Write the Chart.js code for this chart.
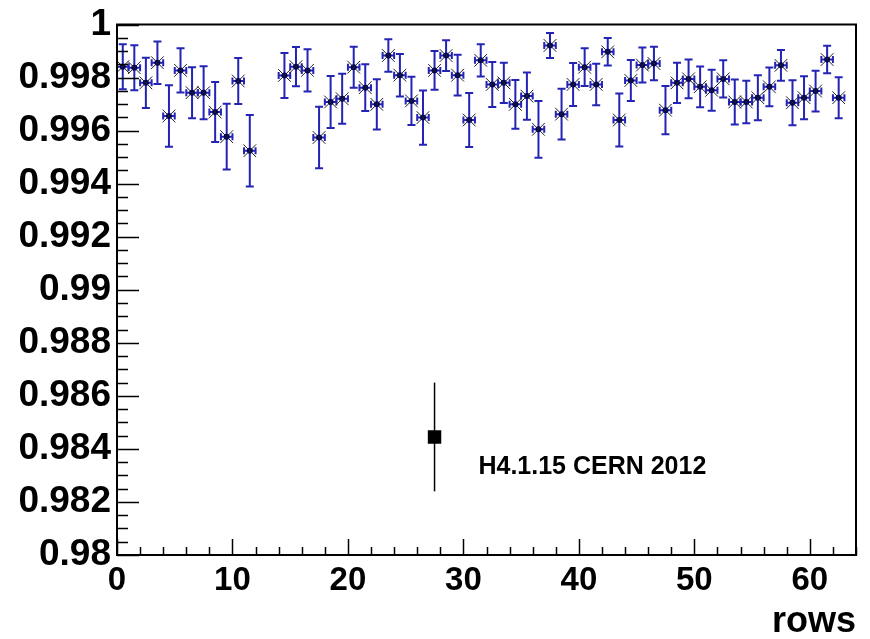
<!DOCTYPE html>
<html>
<head>
<meta charset="utf-8">
<title>H4.1.15 CERN 2012 - efficiency vs rows</title>
<script src="https://cdn.jsdelivr.net/npm/chart.js@4.4.1/dist/chart.umd.min.js"></script>
<style>
    html, body { margin: 0; padding: 0; background: #fff; }
    #wrap { width: 870px; height: 639px; }
</style>
</head>
<body>
<div id="wrap"><canvas id="effChart" width="870" height="639"></canvas></div>
<script>
// row number (bin centres), rows 12 and 13 have no entry
const rows = [
    0.5, 1.5, 2.5, 3.5, 4.5, 5.5, 6.5, 7.5, 8.5, 9.5, 10.5, 11.5,
    14.5, 15.5, 16.5, 17.5, 18.5, 19.5, 20.5, 21.5, 22.5, 23.5, 24.5,
    25.5, 26.5, 27.5, 28.5, 29.5, 30.5, 31.5, 32.5, 33.5, 34.5, 35.5,
    36.5, 37.5, 38.5, 39.5, 40.5, 41.5, 42.5, 43.5, 44.5, 45.5, 46.5,
    47.5, 48.5, 49.5, 50.5, 51.5, 52.5, 53.5, 54.5, 55.5, 56.5, 57.5,
    58.5, 59.5, 60.5, 61.5, 62.5
];
const efficiency = [
    0.99841, 0.99837, 0.99780, 0.99856, 0.99655, 0.99827, 0.99743, 0.99743, 0.99670, 0.99577, 0.99787, 0.99524,
    0.99808, 0.99841, 0.99827, 0.99574, 0.99708, 0.99720, 0.99839, 0.99762, 0.99699, 0.99883, 0.99809,
    0.99712, 0.99649, 0.99827, 0.99883, 0.99809, 0.99640, 0.99865, 0.99774, 0.99780, 0.99699, 0.99730,
    0.99605, 0.99921, 0.99662, 0.99774, 0.99839, 0.99774, 0.99897, 0.99640, 0.99789, 0.99847, 0.99853,
    0.99677, 0.99780, 0.99795, 0.99765, 0.99752, 0.99795, 0.99708, 0.99708, 0.99724, 0.99765, 0.99846,
    0.99705, 0.99724, 0.99749, 0.99868, 0.99724
];
const efficiencyErr = [
    0.00085, 0.00085, 0.00095, 0.00080, 0.00116, 0.00083, 0.00096, 0.00100, 0.00113, 0.00124, 0.00087, 0.00135,
    0.00085, 0.00074, 0.00080, 0.00116, 0.00098, 0.00094, 0.00077, 0.00088, 0.00095, 0.00061, 0.00080,
    0.00091, 0.00102, 0.00073, 0.00058, 0.00077, 0.00102, 0.00061, 0.00085, 0.00076, 0.00092, 0.00089,
    0.00107, 0.00047, 0.00096, 0.00081, 0.00071, 0.00078, 0.00052, 0.00100, 0.00077, 0.00066, 0.00063,
    0.00091, 0.00076, 0.00073, 0.00077, 0.00077, 0.00070, 0.00085, 0.00080, 0.00085, 0.00073, 0.00058,
    0.00085, 0.00081, 0.00077, 0.00052, 0.00077
];
const rowHalfWidth = 0.5; // x error = half a bin

// the single black reference point
const refRow = [27.5];
const refEff = [0.98445];
const refErr = [0.00205];

const labelText = 'H4.1.15 CERN 2012';
const labelPos = { x: 31.3, y: 0.98333 };

const xTitle = 'rows';
const xMin = 0, xMax = 64, xMajor = 10, xMinor = 2;
const yMin = 0.98, yMax = 1, yMajor = 0.002, yMinor = 0.0005;

document.addEventListener('DOMContentLoaded', () => {
    const blue = '#2424b4';

    /**
     * Error bars, inward ROOT style ticks, frame and the text label.
     */
    const rootStyle = {
        id: 'rootStyle',
        beforeDatasetsDraw(chart) {
            const c = chart.ctx;
            const xs = chart.scales.x;
            const ys = chart.scales.y;
            c.save();
            // blue error bars with serifs
            c.strokeStyle = blue;
            c.lineWidth = 2;
            for (let i = 0; i < rows.length; i++) {
                const px = xs.getPixelForValue(rows[i]);
                const py = ys.getPixelForValue(efficiency[i]);
                const x0 = xs.getPixelForValue(rows[i] - rowHalfWidth);
                const x1 = xs.getPixelForValue(rows[i] + rowHalfWidth);
                const y0 = ys.getPixelForValue(efficiency[i] + efficiencyErr[i]);
                const y1 = ys.getPixelForValue(efficiency[i] - efficiencyErr[i]);
                c.beginPath();
                c.moveTo(px, y0); c.lineTo(px, y1);
                c.moveTo(px - 4, y0); c.lineTo(px + 4, y0);
                c.moveTo(px - 4, y1); c.lineTo(px + 4, y1);
                c.moveTo(x0, py); c.lineTo(x1, py);
                c.moveTo(x0, py - 3.5); c.lineTo(x0, py + 3.5);
                c.moveTo(x1, py - 3.5); c.lineTo(x1, py + 3.5);
                c.stroke();
            }
            // reference point error bar
            c.strokeStyle = '#000';
            c.lineWidth = 1.5;
            for (let i = 0; i < refRow.length; i++) {
                const px = xs.getPixelForValue(refRow[i]);
                c.beginPath();
                c.moveTo(px, ys.getPixelForValue(refEff[i] + refErr[i]));
                c.lineTo(px, ys.getPixelForValue(refEff[i] - refErr[i]));
                c.stroke();
            }
            c.restore();
        },
        afterDraw(chart) {
            const c = chart.ctx;
            const xs = chart.scales.x;
            const ys = chart.scales.y;
            const a = chart.chartArea;
            c.save();
            c.strokeStyle = '#000';
            c.lineWidth = 1.5;
            c.beginPath();
            // y ticks pointing into the frame
            const nY = Math.round((yMax - yMin) / yMinor);
            for (let k = 0; k <= nY; k++) {
                const v = yMin + k * yMinor;
                const py = Math.round(ys.getPixelForValue(v)) + 0.5;
                const len = (k % Math.round(yMajor / yMinor) === 0) ? 22 : 11;
                c.moveTo(a.left, py); c.lineTo(a.left + len, py);
            }
            // x ticks pointing up
            const nX = Math.round((xMax - xMin) / xMinor);
            for (let k = 0; k <= nX; k++) {
                const v = xMin + k * xMinor;
                const px = Math.round(xs.getPixelForValue(v)) + 0.5;
                const len = (v % xMajor === 0) ? 16 : 8;
                c.moveTo(px, a.bottom); c.lineTo(px, a.bottom - len);
            }
            c.stroke();
            // frame
            c.lineWidth = 2;
            c.strokeRect(a.left, a.top, a.right - a.left, a.bottom - a.top);
            // text label
            c.fillStyle = '#000';
            c.font = 'bold 25px "Liberation Sans", Arial, sans-serif';
            c.textAlign = 'left';
            c.textBaseline = 'middle';
            c.fillText(labelText, xs.getPixelForValue(labelPos.x), ys.getPixelForValue(labelPos.y));
            c.restore();
        }
    };

    const ctx = document.getElementById('effChart').getContext('2d');
    const effChart = new Chart(ctx, {
        type: 'scatter',
        data: {
            datasets: [
                {
                    label: 'efficiency (cross)',
                    data: rows.map((r, i) => ({ x: r, y: efficiency[i] })),
                    pointStyle: 'crossRot',
                    pointRadius: 9,
                    borderColor: '#222',
                    borderWidth: 1,
                    backgroundColor: '#222'
                },
                {
                    label: 'efficiency',
                    data: rows.map((r, i) => ({ x: r, y: efficiency[i] })),
                    pointStyle: 'circle',
                    pointRadius: 3,
                    borderWidth: 0,
                    backgroundColor: '#000060'
                },
                {
                    label: labelText,
                    data: refRow.map((r, i) => ({ x: r, y: refEff[i] })),
                    pointStyle: 'rect',
                    pointRadius: 9.5,
                    borderWidth: 0,
                    backgroundColor: '#000'
                }
            ]
        },
        options: {
            responsive: false,
            animation: false,
            layout: { padding: { top: 23, right: 14, left: 0, bottom: 0 } },
            plugins: {
                legend: { display: false },
                tooltip: { enabled: false }
            },
            scales: {
                x: {
                    type: 'linear',
                    min: xMin,
                    max: xMax,
                    grid: { display: false, drawTicks: false },
                    border: { display: false },
                    ticks: {
                        stepSize: xMajor,
                        includeBounds: false, // no label at the axis end (64)
                        autoSkip: false,
                        color: '#000',
                        padding: 6,
                        maxRotation: 0,
                        font: { family: '"Liberation Sans", Arial, sans-serif', size: 33, weight: 'bold' }
                    },
                    title: {
                        display: true,
                        text: xTitle,
                        align: 'end',
                        color: '#000',
                        padding: { top: 0, bottom: 3 },
                        font: { family: '"Liberation Sans", Arial, sans-serif', size: 36, weight: 'bold', lineHeight: 0.75 }
                    },
                    afterFit: scale => { scale.height = 84; }
                },
                y: {
                    type: 'linear',
                    min: yMin,
                    max: yMax,
                    grid: { display: false, drawTicks: false },
                    border: { display: false },
                    ticks: {
                        stepSize: yMajor,
                        color: '#000',
                        padding: 6,
                        font: { family: '"Liberation Sans", Arial, sans-serif', size: 37, weight: 'bold', lineHeight: 1 },
                        callback: v => Number(v.toFixed(3)).toString()
                    },
                    afterFit: scale => { scale.width = 117; }
                }
            }
        },
        plugins: [rootStyle]
    });
});
</script>
</body>
</html>
